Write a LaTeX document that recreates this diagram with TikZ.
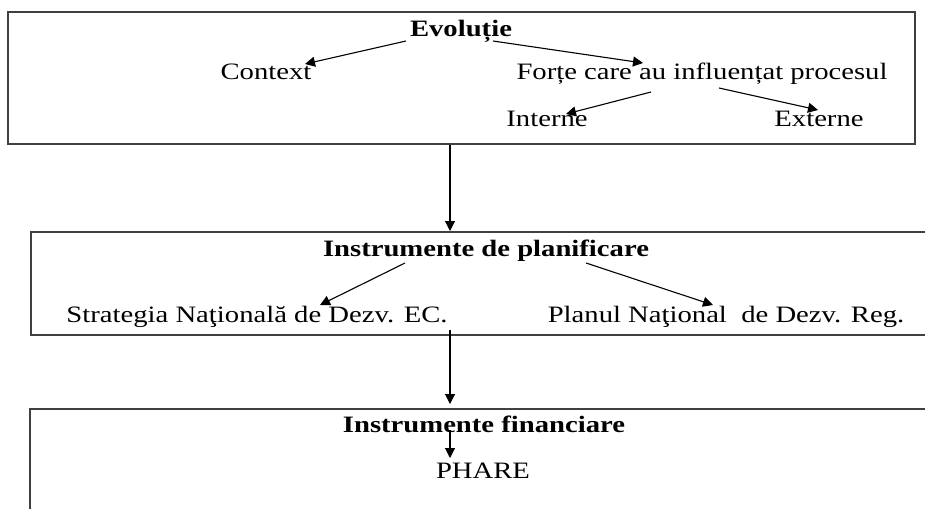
\documentclass[tikz,border=0pt]{standalone}
\usepackage{fontspec}
\setmainfont[FakeStretch=1.22]{Liberation Serif}
\usetikzlibrary{arrows.meta}

\begin{document}
\begin{tikzpicture}[x=1pt,y=-1pt,thick,
 main node/.style={inner sep=0pt,anchor=base,font=\fontsize{23.5}{28}\selectfont},
 head node/.style={main node,font=\fontsize{23.5}{28}\selectfont\bfseries},
 box/.style={draw=black!75,line width=1.6pt,anchor=north west,inner sep=0pt},
 arr/.style={-{Triangle[length=10pt,width=10pt]},line width=1.1pt}]

  \useasboundingbox (0,0) rectangle (925,508);
  \clip (0,0) rectangle (925,508);

  % frames
  \node[box,minimum width=907pt,minimum height=132pt] (b1) at (7,11) {};
  \node[box,minimum width=920pt,minimum height=103pt] (b2) at (30,231) {};
  \node[box,minimum width=920pt,minimum height=130pt] (b3) at (29,408) {};
  \coordinate (ax) at (450,0);

  \node[head node] (1) at (461,37) {Evoluție};
  \node[main node] (2) at (266,80) {Context};
  \node[main node] (3) at (702,80) {Forțe care au influențat procesul};
  \node[main node] (4) at (547,126) {Interne};
  \node[main node] (5) at (819,126) {Externe};

  \node[head node] (6) at (486,256) {Instrumente de planificare};
  \node[main node] (7) at (257,322) {Strategia Naţională de Dezv. EC.};
  \node[main node] (8) at (726,322) {Planul Naţional\ \ de Dezv. Reg.};

  \node[head node] (9) at (484,432) {Instrumente financiare};
  \node[main node] (10) at (483,478) {PHARE};

  \path[arr]
     ([shift={(-55,4)}]1.base) edge ([shift={(39,-16)}]2.base)
     ([shift={(32,4)}]1.base) edge ([shift={(-59,-17)}]3.base)
     ([shift={(-51,12)}]3.base) edge ([shift={(19,-12)}]4.base)
     ([shift={(17,8)}]3.base) edge ([shift={(-1,-16)}]5.base)
     ([shift={(-81,7)}]6.base) edge ([shift={(63,-17)}]7.base)
     ([shift={(100,7)}]6.base) edge ([shift={(-13,-17)}]8.base)
     ([shift={(-34,-2)}]9.base) edge ([shift={(-33,-20)}]10.base);

  \draw[arr] (b1.south -| ax) -- (b2.north -| ax);
  \draw[arr] ([yshift=6pt]b2.south -| ax) -- ([yshift=4pt]b3.north -| ax);
\end{tikzpicture}
\end{document}
